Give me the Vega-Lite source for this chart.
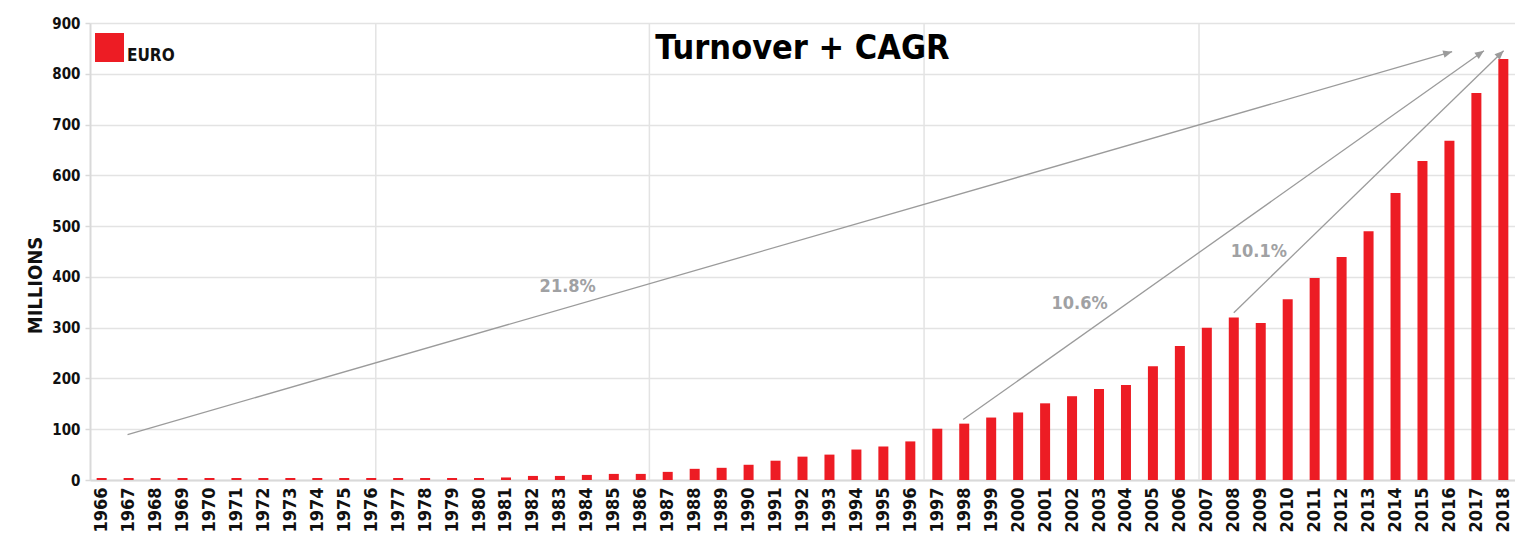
{
  "$schema": "https://vega.github.io/schema/vega-lite/v6.json",
  "width": 1425,
  "height": 457,
  "autosize": "none",
  "padding": {"left": 90, "top": 23, "right": 0, "bottom": 57},
  "background": "white",
  "config": {
    "view": {"stroke": null},
    "font": "DejaVu Sans Condensed",
    "axis": {"labelFont": "DejaVu Sans Condensed", "titleFont": "DejaVu Sans Condensed"},
    "legend": {"labelFont": "DejaVu Sans Condensed"},
    "title": {"font": "DejaVu Sans Condensed"}
  },
  "title": {
    "text": "Turnover + CAGR",
    "fontSize": 34,
    "fontWeight": "bold",
    "color": "#000000",
    "anchor": "middle",
    "frame": "group",
    "baseline": "alphabetic",
    "offset": -77
  },
  "datasets": {
    "turnover": [
      {"year": 1966, "euro": 4}, {"year": 1967, "euro": 4}, {"year": 1968, "euro": 4}, {"year": 1969, "euro": 4},
      {"year": 1970, "euro": 4}, {"year": 1971, "euro": 4}, {"year": 1972, "euro": 4}, {"year": 1973, "euro": 4},
      {"year": 1974, "euro": 4}, {"year": 1975, "euro": 4}, {"year": 1976, "euro": 4}, {"year": 1977, "euro": 4},
      {"year": 1978, "euro": 4}, {"year": 1979, "euro": 4}, {"year": 1980, "euro": 4}, {"year": 1981, "euro": 5},
      {"year": 1982, "euro": 8}, {"year": 1983, "euro": 8}, {"year": 1984, "euro": 10}, {"year": 1985, "euro": 12},
      {"year": 1986, "euro": 12}, {"year": 1987, "euro": 16}, {"year": 1988, "euro": 22}, {"year": 1989, "euro": 24},
      {"year": 1990, "euro": 30}, {"year": 1991, "euro": 38}, {"year": 1992, "euro": 46}, {"year": 1993, "euro": 50},
      {"year": 1994, "euro": 60}, {"year": 1995, "euro": 66}, {"year": 1996, "euro": 76}, {"year": 1997, "euro": 101},
      {"year": 1998, "euro": 111}, {"year": 1999, "euro": 123}, {"year": 2000, "euro": 133}, {"year": 2001, "euro": 151},
      {"year": 2002, "euro": 165}, {"year": 2003, "euro": 179}, {"year": 2004, "euro": 187}, {"year": 2005, "euro": 224},
      {"year": 2006, "euro": 264}, {"year": 2007, "euro": 300}, {"year": 2008, "euro": 320}, {"year": 2009, "euro": 309},
      {"year": 2010, "euro": 356}, {"year": 2011, "euro": 398}, {"year": 2012, "euro": 439}, {"year": 2013, "euro": 490},
      {"year": 2014, "euro": 565}, {"year": 2015, "euro": 628}, {"year": 2016, "euro": 668}, {"year": 2017, "euro": 762},
      {"year": 2018, "euro": 829}
    ],
    "arrows": [
      {"id": "a", "year": 1966.96, "euro": 89.5, "year_end": 2016.10, "euro_end": 843.4},
      {"id": "b", "year": 1997.96, "euro": 119, "year_end": 2017.28, "euro_end": 845.4},
      {"id": "c", "year": 2008.0, "euro": 329.5, "year_end": 2018.01, "euro_end": 845.4}
    ],
    "heads": [
      {"id": "a", "year": 2016.10, "euro": 843.4},
      {"id": "b", "year": 2017.28, "euro": 845.4},
      {"id": "c", "year": 2018.01, "euro": 845.4}
    ],
    "cagr": [
      {"year": 1983.29, "euro": 379.4, "rate": "21.8%"},
      {"year": 2002.28, "euro": 346.5, "rate": "10.6%"},
      {"year": 2008.93, "euro": 449.8, "rate": "10.1%"}
    ],
    "vgrid": [
      {"year": 1976.17}, {"year": 1986.32}, {"year": 1996.51}, {"year": 2006.71}
    ]
  },
  "encoding": {
    "x": {
      "field": "year", "type": "quantitative",
      "scale": {"domain": [1965.753, 2018.247], "nice": false, "zero": false},
      "axis": {
        "title": null,
        "values": [1966,1967,1968,1969,1970,1971,1972,1973,1974,1975,1976,1977,1978,1979,1980,1981,1982,1983,1984,1985,1986,1987,1988,1989,1990,1991,1992,1993,1994,1995,1996,1997,1998,1999,2000,2001,2002,2003,2004,2005,2006,2007,2008,2009,2010,2011,2012,2013,2014,2015,2016,2017,2018],
        "format": "d",
        "labelAngle": 270,
        "labelAlign": "right",
        "labelBaseline": "middle",
        "labelFontSize": 18,
        "labelFontWeight": "bold",
        "labelColor": "#111111",
        "labelPadding": 7,
        "labelOverlap": false,
        "labelFlush": false,
        "ticks": false,
        "grid": false,
        "domainColor": "#D9D9D9",
        "domainWidth": 2
      }
    }
  },
  "layer": [
    {
      "data": {"name": "vgrid"},
      "mark": {"type": "rule", "color": "#E3E3E3", "strokeWidth": 1.5},
      "encoding": {}
    },
    {
      "encoding": {
        "y": {
          "field": "euro", "type": "quantitative",
          "scale": {"domain": [0, 900], "nice": false},
          "axis": {
            "title": "MILLIONS",
            "titleFontSize": 20,
            "titleFontWeight": "bold",
            "titleColor": "#111111",
            "titleX": -55,
            "titleY": 262,
            "titleAngle": 270,
            "titleAlign": "center",
            "titleBaseline": "middle",
            "values": [0, 100, 200, 300, 400, 500, 600, 700, 800, 900],
            "labelFontSize": 15,
            "labelFontWeight": "bold",
            "labelColor": "#111111",
            "labelPadding": 5,
            "tickSize": 5,
            "tickColor": "#D9D9D9",
            "tickWidth": 1.5,
            "gridColor": "#E3E3E3",
            "gridWidth": 1.5,
            "domainColor": "#D9D9D9",
            "domainWidth": 2
          }
        }
      },
      "layer": [
        {
          "data": {"name": "turnover"},
          "mark": {"type": "bar", "width": 10},
          "encoding": {
            "color": {
              "datum": "EURO",
              "scale": {"domain": ["EURO"], "range": ["#ED1C24"]},
              "legend": {
                "title": null,
                "orient": "none",
                "legendX": 5,
                "legendY": 10,
                "padding": 0,
                "symbolType": "square",
                "symbolSize": 841,
                "symbolStrokeWidth": 0,
                "labelFontSize": 17,
                "labelFontWeight": "bold",
                "labelColor": "#111111",
                "labelBaseline": "top",
                "labelOffset": 3
              }
            }
          }
        },
        {
          "data": {"name": "arrows"},
          "mark": {"type": "rule", "color": "#9B9B9B", "strokeWidth": 1.3},
          "encoding": {
            "x2": {"field": "year_end"},
            "y2": {"field": "euro_end"}
          }
        },
        {
          "data": {"name": "heads"},
          "transform": [{"filter": "datum.id == 'a'"}],
          "mark": {"type": "point", "shape": "M0,0L-1,-0.42L-1,0.42Z", "size": 324, "filled": true, "color": "#9B9B9B", "opacity": 1, "angle": 344},
          "encoding": {}
        },
        {
          "data": {"name": "heads"},
          "transform": [{"filter": "datum.id == 'b'"}],
          "mark": {"type": "point", "shape": "M0,0L-1,-0.42L-1,0.42Z", "size": 324, "filled": true, "color": "#9B9B9B", "opacity": 1, "angle": 325},
          "encoding": {}
        },
        {
          "data": {"name": "heads"},
          "transform": [{"filter": "datum.id == 'c'"}],
          "mark": {"type": "point", "shape": "M0,0L-1,-0.42L-1,0.42Z", "size": 324, "filled": true, "color": "#9B9B9B", "opacity": 1, "angle": 316},
          "encoding": {}
        },
        {
          "data": {"name": "cagr"},
          "mark": {"type": "text", "fontSize": 18, "fontWeight": "bold", "color": "#A0A1A3", "align": "center", "baseline": "middle"},
          "encoding": {
            "text": {"field": "rate"}
          }
        }
      ]
    }
  ]
}
